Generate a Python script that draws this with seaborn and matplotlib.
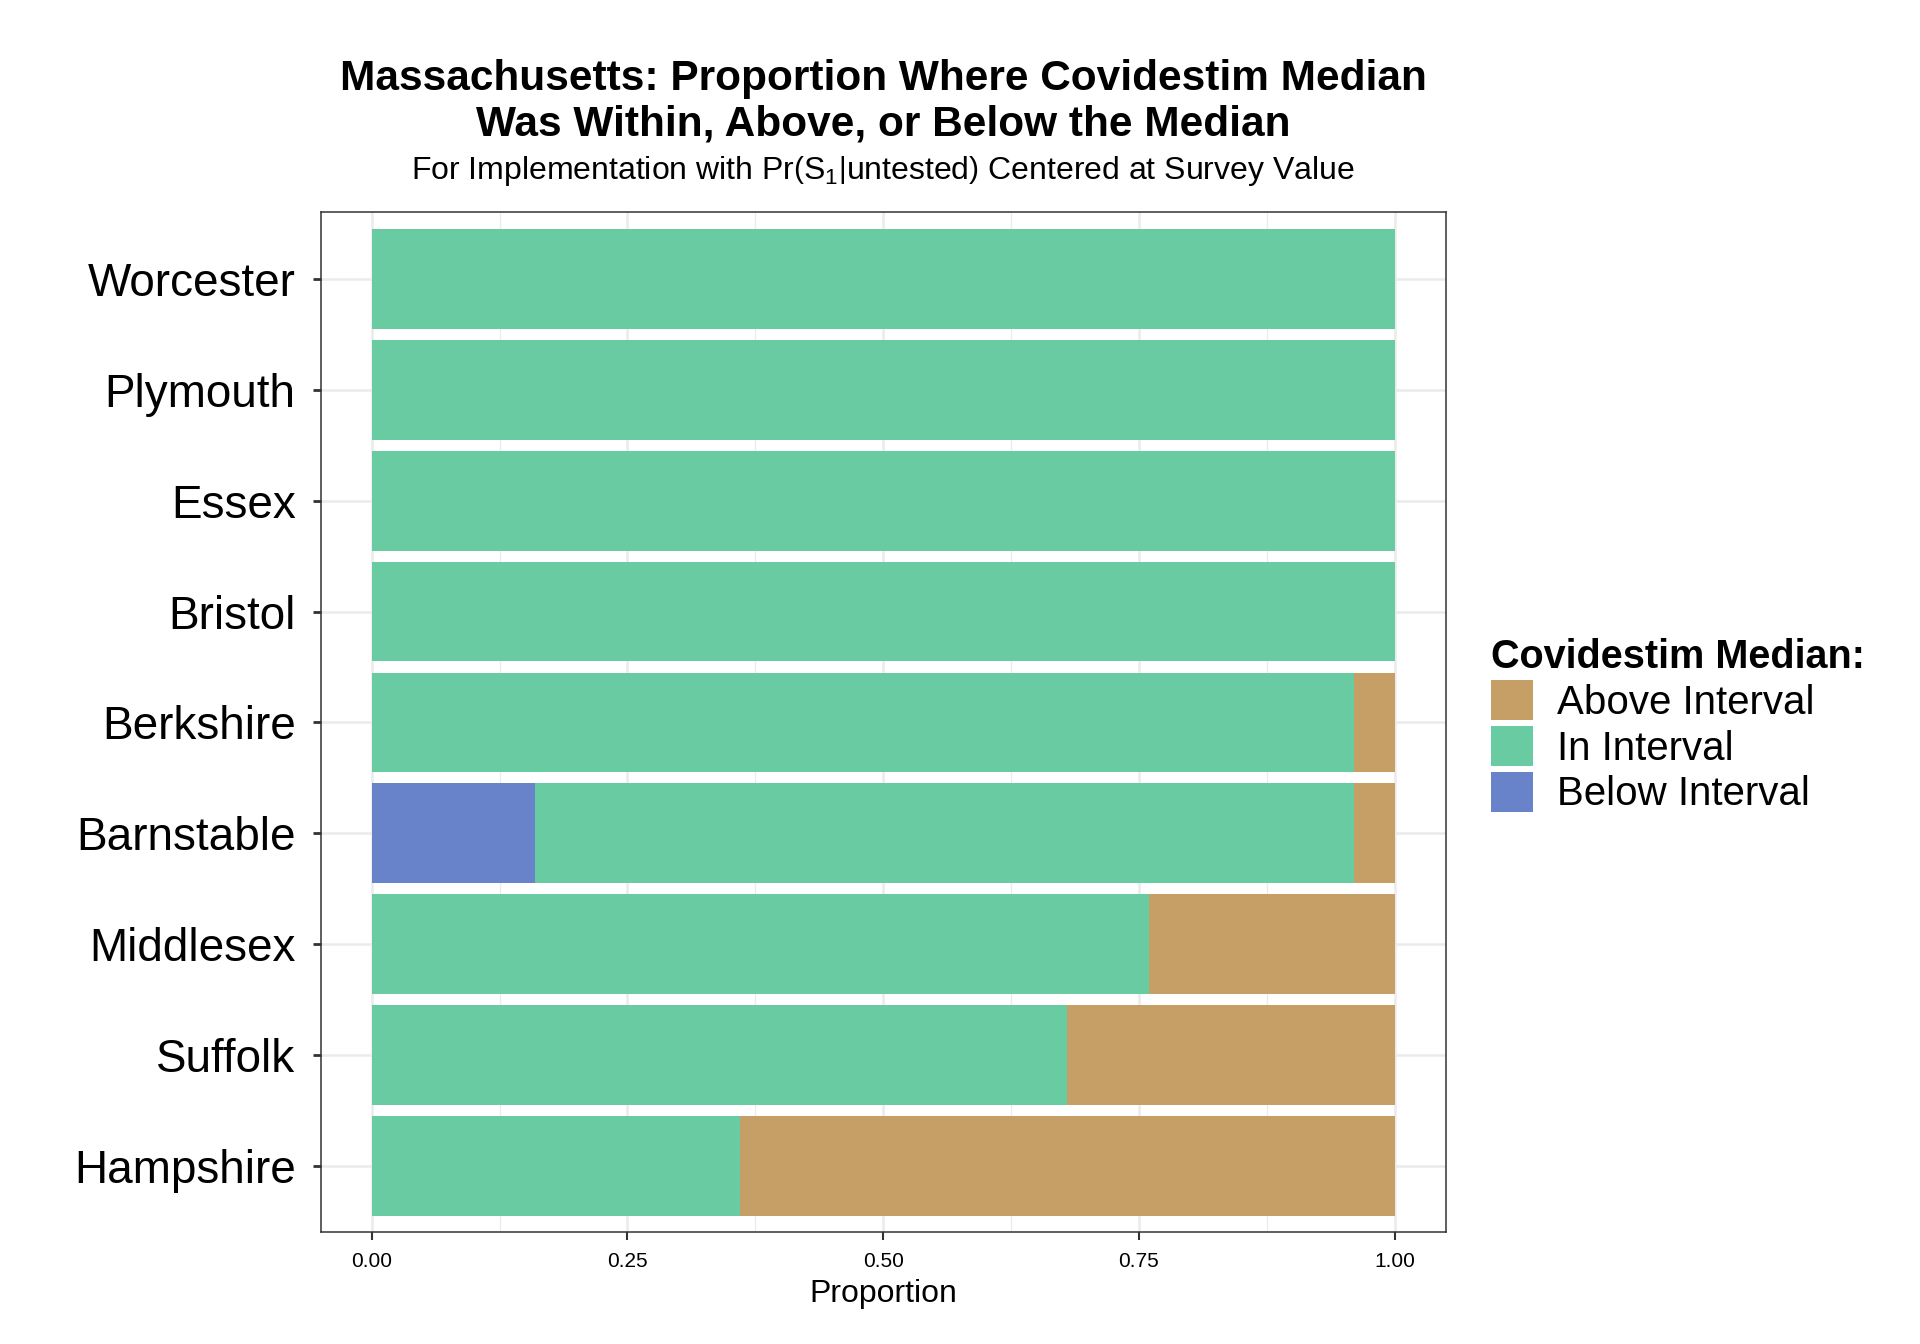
"""
Stacked horizontal bars: where the Covidestim median fell relative to the interval.
"""

import matplotlib

matplotlib.use("Agg")
import matplotlib.pyplot as plt
import pandas as pd
import seaborn as sns
from matplotlib.patches import Patch
from matplotlib.ticker import MultipleLocator

counties = [
    "Worcester",
    "Plymouth",
    "Essex",
    "Bristol",
    "Berkshire",
    "Barnstable",
    "Middlesex",
    "Suffolk",
    "Hampshire",
]
below_interval = [0.0, 0.0, 0.0, 0.0, 0.0, 0.16, 0.0, 0.0, 0.0]
in_interval = [1.0, 1.0, 1.0, 1.0, 0.96, 0.80, 0.76, 0.68, 0.36]
above_interval = [0.0, 0.0, 0.0, 0.0, 0.04, 0.04, 0.24, 0.32, 0.64]

colors = {
    "Above Interval": "#C69F66",
    "In Interval": "#69CBA1",
    "Below Interval": "#6883C9",
}

sns.set_theme(style="white")
plt.rcParams["font.family"] = ["Liberation Sans", "DejaVu Sans"]
plt.rcParams["text.color"] = "black"
plt.rcParams["axes.labelcolor"] = "black"
plt.rcParams["mathtext.fontset"] = "custom"
plt.rcParams["mathtext.rm"] = "Liberation Sans"
plt.rcParams["mathtext.it"] = "Liberation Sans:italic"
plt.rcParams["mathtext.bf"] = "Liberation Sans:bold"

df = pd.DataFrame(
    {
        "county": counties,
        "below": below_interval,
        "within": in_interval,
        "above": above_interval,
    }
)
# cumulative ends, drawn back to front so each layer covers the previous one
df["end_above"] = df["below"] + df["within"] + df["above"]
df["end_within"] = df["below"] + df["within"]
df["end_below"] = df["below"]

fig = plt.figure(figsize=(19.2, 13.44), dpi=100)
ax = fig.add_axes([0.167, 0.083, 0.586, 0.759])

for col, label in [
    ("end_above", "Above Interval"),
    ("end_within", "In Interval"),
    ("end_below", "Below Interval"),
]:
    sns.barplot(
        data=df,
        x=col,
        y="county",
        order=counties,
        orient="h",
        color=colors[label],
        saturation=1,
        width=0.9,
        linewidth=0,
        ax=ax,
        zorder=2,
    )

n = len(counties)
ax.set_xlim(-0.05, 1.05)
ax.set_ylim(n - 1 + 0.6, -0.6)
ax.xaxis.set_major_locator(MultipleLocator(0.25))
ax.xaxis.set_minor_locator(MultipleLocator(0.125))
ax.xaxis.set_major_formatter(plt.FuncFormatter(lambda x, p: f"{x:.2f}"))
ax.grid(True, which="major", color="#EBEBEB", linewidth=1.8, zorder=0)
ax.grid(True, which="minor", axis="x", color="#EBEBEB", linewidth=0.9, zorder=0)
ax.set_axisbelow(True)

for spine in ax.spines.values():
    spine.set_color("#333333")
    spine.set_linewidth(1.1)

ax.tick_params(axis="y", labelsize=33, length=6, width=2, color="#333333",
               left=True, pad=12, labelcolor="black")
ax.tick_params(axis="x", labelsize=15, length=6, width=1.5, color="#333333",
               bottom=True, pad=8, labelcolor="black")
ax.tick_params(axis="x", which="minor", bottom=False)
ax.set_ylabel("")
ax.set_xlabel("Proportion", fontsize=23, labelpad=6)

xc = 0.167 + 0.586 / 2
fig.text(xc, 0.941, "Massachusetts: Proportion Where Covidestim Median",
         ha="center", va="center", fontsize=30.5, fontweight="bold")
fig.text(xc, 0.907, "Was Within, Above, or Below the Median",
         ha="center", va="center", fontsize=30.5, fontweight="bold")
fig.text(xc, 0.873,
         r"For Implementation with $\mathrm{Pr}\left(\mathrm{S}_1\middle|\mathrm{untested}\right)$ Centered at Survey Value",
         ha="center", va="center", fontsize=23)

handles = [Patch(facecolor=colors[k], edgecolor="none", label=k) for k in colors]
leg = fig.legend(
    handles=handles,
    title="Covidestim Median:",
    loc="upper left",
    bbox_to_anchor=(0.768, 0.537),
    frameon=False,
    fontsize=29,
    title_fontproperties={"weight": "bold", "size": 28.5},
    alignment="left",
    handlelength=1.05,
    handleheight=1.15,
    handletextpad=0.6,
    labelspacing=0.1,
    borderaxespad=0,
)

plt.savefig("out.png", dpi=100)
plt.close()
